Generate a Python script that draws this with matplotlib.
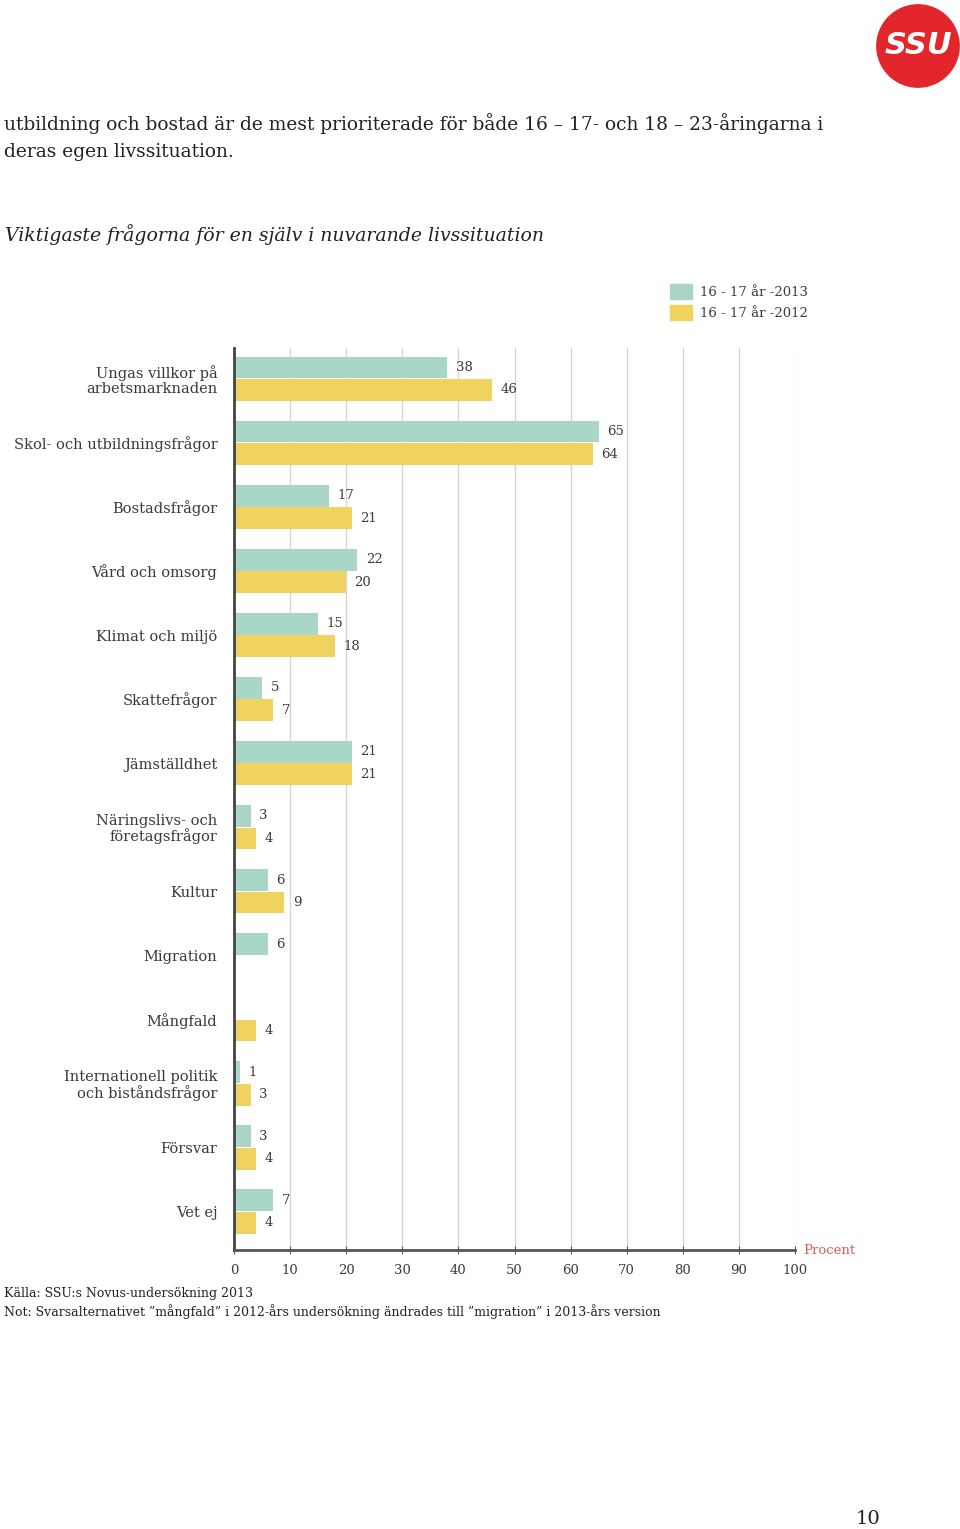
import numpy as np
import matplotlib
matplotlib.use('Agg')
import matplotlib.pyplot as plt
from matplotlib.patches import Circle, Patch

plt.rcParams['font.family'] = ['DejaVu Serif']

categories = ['Ungas villkor på\narbetsmarknaden', 'Skol- och utbildningsfrågor', 'Bostadsfrågor',
              'Vård och omsorg', 'Klimat och miljö', 'Skattefrågor', 'Jämställdhet',
              'Näringslivs- och\nföretagsfrågor', 'Kultur', 'Migration', 'Mångfald',
              'Internationell politik\noch biståndsfrågor', 'Försvar', 'Vet ej']
v2013 = [38, 65, 17, 22, 15, 5, 21, 3, 6, 6, np.nan, 1, 3, 7]
v2012 = [46, 64, 21, 20, 18, 7, 21, 4, 9, np.nan, 4, 3, 4, 4]
xticks = [0, 10, 20, 30, 40, 50, 60, 70, 80, 90, 100]
series_names = ['16 - 17 år -2013', '16 - 17 år -2012']

teal = '#aad6c7'
yellow = '#f0d35e'
txt = '#3a3a3a'

fig = plt.figure(figsize=(9.6, 15.29), dpi=100)
ax = fig.add_axes([234/960, 1-1250/1529, 561/960, (1250-348)/1529])

y = np.arange(len(categories))
ax.barh(y - 0.175, v2013, height=0.34, color=teal)
ax.barh(y + 0.175, v2012, height=0.34, color=yellow)

for i in range(len(categories)):
    if not np.isnan(v2013[i]):
        ax.text(v2013[i] + 1.5, y[i] - 0.175, str(v2013[i]), va='center', ha='left',
                fontsize=9.5, color=txt)
    if not np.isnan(v2012[i]):
        ax.text(v2012[i] + 1.5, y[i] + 0.175, str(v2012[i]), va='center', ha='left',
                fontsize=9.5, color=txt)

ax.set_xlim(0, 100)
ax.set_ylim(13.6, -0.48)
ax.set_yticks(y)
ax.set_yticklabels(categories, fontsize=10.5, color=txt, linespacing=1.05)
ax.tick_params(axis='y', length=0, pad=12)
ax.set_xticks(xticks)
ax.set_xticklabels([str(t) for t in xticks], fontsize=9.5, color=txt)
ax.tick_params(axis='x', direction='inout', length=6, color='#555555', pad=7)
ax.grid(axis='x', color='#d4d4d4', linewidth=0.9)
ax.set_axisbelow(True)
for s in ['top', 'right']:
    ax.spines[s].set_visible(False)
ax.spines['bottom'].set_color('#555555')
ax.spines['bottom'].set_linewidth(2)
ax.spines['left'].set_color('#444444')
ax.spines['left'].set_linewidth(2)

ax.text(101.5, 13.6, 'Procent', fontsize=9.5, color='#e05a5a', va='center', ha='left')

handles = [Patch(color=teal), Patch(color=yellow)]
fig.legend(handles, series_names, loc='upper left', bbox_to_anchor=(658/960, 1-272/1529),
           frameon=False, fontsize=9.5, handlelength=1.65, handleheight=1.35,
           labelspacing=0.5, handletextpad=0.6, labelcolor=txt)

fig.text(4/960, 1-124/1529, 'utbildning och bostad är de mest prioriterade för både 16 – 17- och 18 – 23-åringarna i',
         fontsize=13.4, color='#222222', va='center')
fig.text(4/960, 1-152/1529, 'deras egen livssituation.', fontsize=13.4, color='#222222', va='center')
fig.text(5/960, 1-235/1529, 'Viktigaste frågorna för en själv i nuvarande livssituation',
         fontsize=13.6, style='italic', color='#222222', va='center')
fig.text(4/960, 1-1293/1529, 'Källa: SSU:s Novus-undersökning 2013', fontsize=9, color='#222222', va='center')
fig.text(4/960, 1-1312/1529, 'Not: Svarsalternativet ”mångfald” i 2012-års undersökning ändrades till ”migration” i 2013-års version',
         fontsize=9, color='#222222', va='center')
fig.text(856/960, 1-1519/1529, '10', fontsize=14, color='#222222', va='center')

# logo
lax = fig.add_axes([876/960, 1-88/1529, 84/960, 84/1529])
lax.set_xlim(-1, 1)
lax.set_ylim(-1, 1)
lax.set_aspect('equal')
lax.axis('off')
lax.add_patch(Circle((0, 0), 0.98, color='#e3262b'))
lax.text(0, 0, 'SSU', color='white', fontsize=22, fontweight='bold', style='italic',
         family='DejaVu Sans', ha='center', va='center')

fig.savefig('out.png', dpi=100)
